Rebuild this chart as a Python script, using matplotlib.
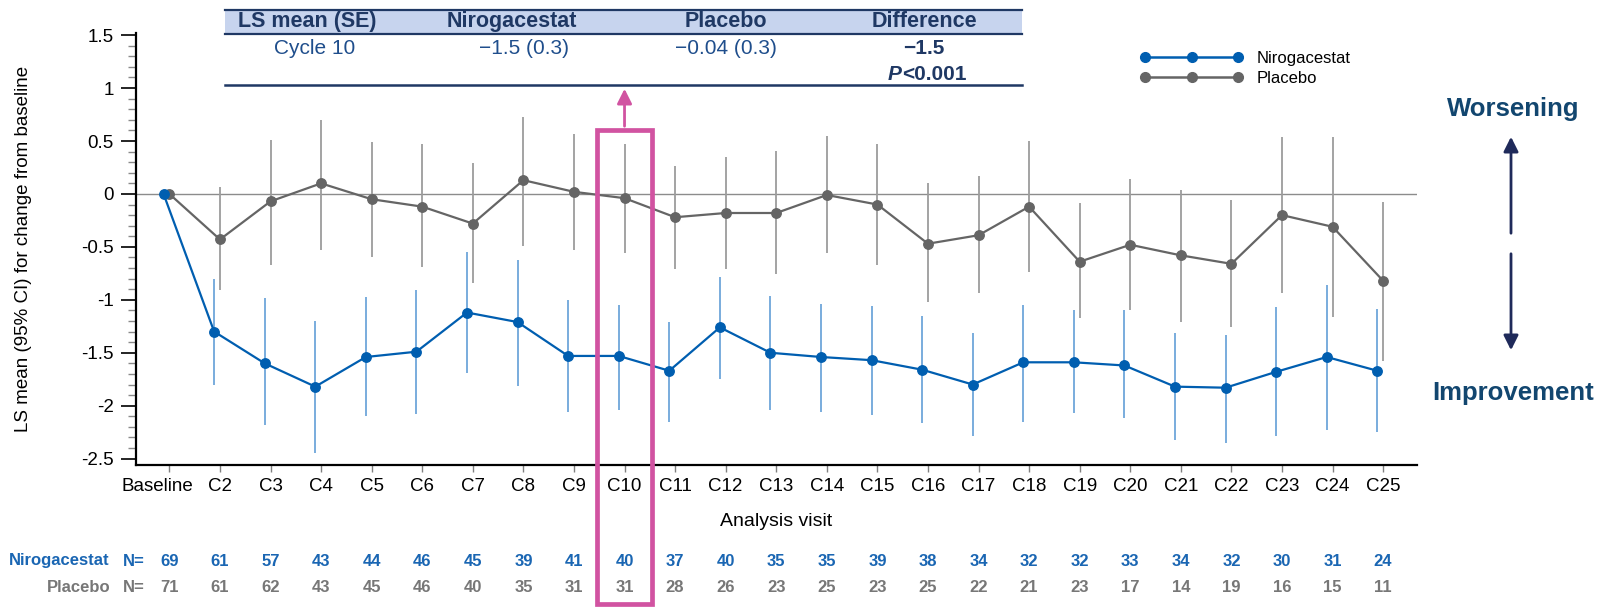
import numpy as np
import matplotlib.pyplot as plt
from matplotlib.patches import Rectangle, FancyArrowPatch
from matplotlib.lines import Line2D
from matplotlib.ticker import MultipleLocator, FormatStrFormatter
from matplotlib.transforms import blended_transform_factory, ScaledTranslation

plt.rcParams['font.family'] = ['Liberation Sans', 'DejaVu Sans']
plt.rcParams['axes.unicode_minus'] = False

# visits
visits = ['Baseline', 'C2', 'C3', 'C4', 'C5', 'C6', 'C7', 'C8', 'C9', 'C10', 'C11', 'C12',
          'C13', 'C14', 'C15', 'C16', 'C17', 'C18', 'C19', 'C20', 'C21', 'C22', 'C23',
          'C24', 'C25']

# LS mean change from baseline with 95% CI
niro_mean = [0, -1.30, -1.60, -1.82, -1.54, -1.49, -1.12, -1.21, -1.53, -1.53, -1.67, -1.26,
             -1.50, -1.54, -1.57, -1.66, -1.80, -1.59, -1.59, -1.62, -1.82, -1.83, -1.68,
             -1.54, -1.67]
niro_lo = [np.nan, -1.80, -2.18, -2.45, -2.10, -2.08, -1.69, -1.81, -2.06, -2.04, -2.15, -1.75,
           -2.04, -2.06, -2.09, -2.16, -2.29, -2.15, -2.07, -2.12, -2.32, -2.35, -2.29,
           -2.23, -2.25]
niro_hi = [np.nan, -0.80, -0.98, -1.20, -0.97, -0.91, -0.55, -0.62, -1.00, -1.05, -1.21, -0.78,
           -0.96, -1.04, -1.06, -1.15, -1.31, -1.05, -1.10, -1.10, -1.31, -1.33, -1.07,
           -0.86, -1.09]

plac_mean = [0, -0.43, -0.07, 0.10, -0.05, -0.12, -0.28, 0.13, 0.02, -0.04, -0.22, -0.18,
             -0.18, -0.01, -0.10, -0.47, -0.39, -0.12, -0.64, -0.48, -0.58, -0.66, -0.20,
             -0.31, -0.82]
plac_lo = [np.nan, -0.91, -0.67, -0.53, -0.60, -0.69, -0.84, -0.49, -0.53, -0.56, -0.71, -0.71,
           -0.76, -0.56, -0.67, -1.02, -0.94, -0.74, -1.17, -1.10, -1.21, -1.26, -0.94,
           -1.16, -1.58]
plac_hi = [np.nan, 0.07, 0.51, 0.70, 0.49, 0.47, 0.29, 0.73, 0.57, 0.47, 0.26, 0.35,
           0.41, 0.55, 0.47, 0.10, 0.17, 0.50, -0.09, 0.14, 0.04, -0.06, 0.54, 0.54, -0.08]

# patients at each visit
niro_n = [69, 61, 57, 43, 44, 46, 45, 39, 41, 40, 37, 40, 35, 35, 39, 38, 34, 32, 32, 33,
          34, 32, 30, 31, 24]
plac_n = [71, 61, 62, 43, 45, 46, 40, 35, 31, 31, 28, 26, 23, 25, 23, 25, 22, 21, 23, 17,
          14, 19, 16, 15, 11]

# summary table at cycle 10
tab_header = ['LS mean (SE)', 'Nirogacestat', 'Placebo', 'Difference']
tab_row = ['Cycle 10', '\u22121.5 (0.3)', '\u22120.04 (0.3)', '\u22121.5']
p_text = '<0.001'
hl_visit = 9  # C10

BLUE = '#005eb0'
GRAY = '#656565'
BLUE_CI = '#6ea6da'
GRAY_CI = '#9c9c9c'
NAVY = '#1f3864'
PINK = '#d153a1'
TEAL = '#12466f'

W, H = 1603, 608


def fx(px):
    return px / W


def fy(py):
    return 1 - py / H


fig = plt.figure(figsize=(W / 100, H / 100), dpi=100)
ax = fig.add_axes([fx(136), fy(465), (1417 - 136) / W, (465 - 33) / H])

x = np.arange(len(visits))
dx = -0.115  # nirogacestat drawn slightly left of placebo

ax.axhline(0, color='#8c8c8c', lw=1, zorder=1)
ax.vlines(x, plac_lo, plac_hi, color=GRAY_CI, lw=1.3, zorder=2)
ax.vlines(x + dx, niro_lo, niro_hi, color=BLUE_CI, lw=1.3, zorder=2)
ax.plot(x, plac_mean, color=GRAY, lw=1.6, marker='o', ms=6.8, zorder=3, label='Placebo')
ax.plot(x + dx, niro_mean, color=BLUE, lw=1.6, marker='o', ms=6.8, zorder=4,
        label='Nirogacestat')

ax.set_xlim(-0.66, 24.67)
ax.set_ylim(-2.56, 1.52)
ax.set_xticks(x)
ax.set_xticklabels(visits)
ax.yaxis.set_major_locator(MultipleLocator(0.5))
ax.yaxis.set_minor_locator(MultipleLocator(0.1))
ax.yaxis.set_major_formatter(FormatStrFormatter('%g'))

for s in ['top', 'right']:
    ax.spines[s].set_visible(False)
for s in ['left', 'bottom']:
    ax.spines[s].set_linewidth(1.6)

ax.tick_params(axis='x', length=4.8, width=1, color='#808080', pad=4.5, labelsize=13.5)
ax.tick_params(axis='y', which='major', length=11, width=1.2, pad=5, labelsize=13.5)
ax.tick_params(axis='y', which='minor', length=5.8, width=1, color='#8a8a8a')

base_lbl = ax.get_xticklabels()[0]
base_lbl.set_transform(base_lbl.get_transform() + ScaledTranslation(-0.12, 0, fig.dpi_scale_trans))

ax.set_ylabel('LS mean (95% CI) for change from baseline', fontsize=13.5)
ax.yaxis.set_label_coords(-0.081, 0.5)
ax.set_xlabel('Analysis visit', fontsize=14, labelpad=13)

# legend
handles = [Line2D([], [], color=BLUE, lw=1.8, marker='o', ms=7),
           Line2D([], [], color=GRAY, lw=1.8, marker='o', ms=7)]
ax.legend(handles, ['Nirogacestat', 'Placebo'], loc='upper left',
          bbox_to_anchor=(fx(1140), fy(51)), bbox_transform=fig.transFigure,
          frameon=False, numpoints=3, handlelength=6.2, handletextpad=0.8,
          labelspacing=0.3, borderpad=0, borderaxespad=0, fontsize=12)

# cycle 10 table
fig.add_artist(Rectangle((fx(225), fy(34)), (1022 - 225) / W, 25 / H,
                         transform=fig.transFigure, fc='#c7d4ee', ec='none'))
for yy in (9.5, 34):
    fig.add_artist(Line2D([fx(225), fx(1022)], [fy(yy), fy(yy)], color=NAVY, lw=1.6))
fig.add_artist(Line2D([fx(225), fx(1022)], [fy(85), fy(85)], color=NAVY, lw=1.8))

head_x = [307, 512, 726, 924]
body_x = [315, 524, 726, 924]
for cx, txt in zip(head_x, tab_header):
    fig.text(fx(cx), fy(21.5), txt, ha='center', va='center', fontsize=15.5,
             weight='bold', color=NAVY)
for i, (cx, txt) in enumerate(zip(body_x, tab_row)):
    fig.text(fx(cx), fy(48), txt, ha='center', va='center', fontsize=15,
             color=NAVY if i == 3 else '#1f4e8c', weight='bold' if i == 3 else 'normal')
fig.text(fx(902), fy(75), 'P', ha='right', va='center', fontsize=15, weight='bold',
         style='italic', color=NAVY)
fig.text(fx(902), fy(75), p_text, ha='left', va='center', fontsize=15, weight='bold',
         color=NAVY)

# highlight box around C10
blend = blended_transform_factory(ax.transData, fig.transFigure)
ax.add_patch(Rectangle((hl_visit - 0.55, fy(604)), 1.1, (604 - 130) / H, transform=blend,
                       fill=False, ec=PINK, lw=3.4, clip_on=False, zorder=10))
ax.add_patch(FancyArrowPatch((hl_visit, fy(129)), (hl_visit, fy(86)), transform=blend,
                             arrowstyle='-|>', mutation_scale=22, color=PINK, lw=2,
                             clip_on=False, zorder=10))

# direction arrows
fig.text(fx(1513), fy(109), 'Worsening', ha='center', va='center', fontsize=18.5,
         weight='bold', color=TEAL)
fig.text(fx(1513), fy(393), 'Improvement', ha='center', va='center', fontsize=18.5,
         weight='bold', color=TEAL)
fig.add_artist(FancyArrowPatch((fx(1511), fy(236)), (fx(1511), fy(134)),
                               transform=fig.transFigure, arrowstyle='-|>',
                               mutation_scale=22, color='#1f2a5a', lw=2))
fig.add_artist(FancyArrowPatch((fx(1511), fy(251)), (fx(1511), fy(353)),
                               transform=fig.transFigure, arrowstyle='-|>',
                               mutation_scale=22, color='#1f2a5a', lw=2))

# numbers at risk
N_BLUE = '#1a66b3'
N_GRAY = '#777777'
for yy, name, ns, col in ((561, 'Nirogacestat', niro_n, N_BLUE),
                          (588, 'Placebo', plac_n, N_GRAY)):
    fig.text(fx(110), fy(yy), name, ha='right', va='center', fontsize=12,
             weight='bold', color=col)
    fig.text(fx(134), fy(yy), 'N=', ha='center', va='center', fontsize=12,
             weight='bold', color=col)
    for i, n in enumerate(ns):
        ax.text(i, fy(yy), str(n), transform=blend, ha='center', va='center',
                fontsize=12, weight='bold', color=col, clip_on=False)

fig.savefig('out.png', dpi=100)
